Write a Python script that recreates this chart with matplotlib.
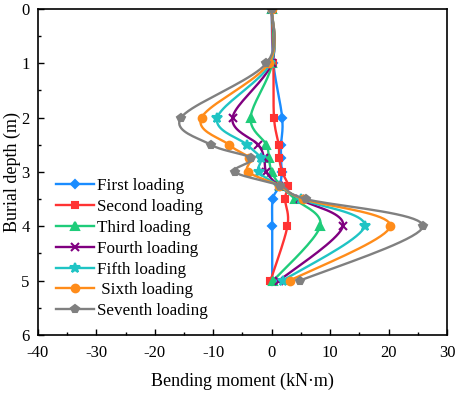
import numpy as np
import matplotlib.pyplot as plt

plt.rcParams['font.family'] = ['Liberation Serif', 'DejaVu Serif']
plt.rcParams['axes.unicode_minus'] = False

# depths of the measuring points (m)
depth = np.array([0, 1, 2, 2.5, 2.75, 3, 3.25, 3.5, 4, 5])

# bending moment (kN*m) for each loading stage
first = [0, 0.3, 1.8, 1.6, 1.6, 1.7, 1.4, 0.2, 0.1, 0.1]
second = [0, 0.3, 0.4, 1.2, 1.3, 1.8, 2.8, 2.3, 2.7, -0.2]
third = [0, 0.1, -3.6, -0.9, -0.5, 0.0, 1.5, 4.0, 8.3, 0.3]
fourth = [0, 0.0, -6.7, -2.3, -1.3, -0.9, 1.2, 4.8, 12.2, 1.3]
fifth = [0, -0.2, -9.3, -4.2, -1.9, -2.2, 1.2, 5.0, 15.9, 1.9]
sixth = [0, -0.5, -12.0, -7.3, -3.8, -4.0, 1.3, 5.4, 20.3, 3.1]
seventh = [0, -0.9, -15.5, -10.4, -3.5, -6.3, 1.4, 5.9, 25.9, 4.9]

labels = ['First loading', 'Second loading', 'Third loading', 'Fourth loading',
          'Fifth loading', ' Sixth loading', 'Seventh loading']
series = [first, second, third, fourth, fifth, sixth, seventh]
colors = ['#1a8cff', '#ff3333', '#1fcc7a', '#800080', '#1fc4c4', '#ff8c1a', '#808080']
markers = ['D', 's', '^', 'x', '*', 'o', 'p']
msizes = [4.5, 5, 5.5, 6, 7, 5.5, 6]


def smooth(x, y, n=20):
    # Catmull-Rom curve through the points, for a smoothed line like Origin's spline
    pts = np.column_stack([x, y])
    pts = np.vstack([pts[0], pts, pts[-1]])
    out = []
    t = np.linspace(0, 1, n, endpoint=False)[:, None]
    for i in range(1, len(pts) - 2):
        p0, p1, p2, p3 = pts[i - 1], pts[i], pts[i + 1], pts[i + 2]
        seg = 0.5 * ((2 * p1) + (-p0 + p2) * t + (2 * p0 - 5 * p1 + 4 * p2 - p3) * t ** 2
                     + (-p0 + 3 * p1 - 3 * p2 + p3) * t ** 3)
        out.append(seg)
    out.append(pts[-2][None, :])
    out = np.vstack(out)
    return out[:, 0], out[:, 1]


fig = plt.figure(figsize=(4.57, 3.93), dpi=100)
ax = fig.add_axes([0.083, 0.148, 0.895, 0.829])

for vals, lab, c, m, ms in zip(series, labels, colors, markers, msizes):
    sx, sy = smooth(np.array(vals, float), depth)
    ax.plot(sx, sy, '-', color=c, lw=1.7)
    ax.plot(vals, depth, m, color=c, ms=ms, mew=1.5)
    ax.plot([], [], '-', marker=m, color=c, lw=1.7, ms=ms, mew=1.5, label=lab)

ax.set_xlim(-40, 30)
ax.set_ylim(6, 0)
ax.set_xticks(np.arange(-40, 31, 10))
ax.set_xticks(np.arange(-35, 30, 10), minor=True)
ax.set_yticks(np.arange(0, 7, 1))
ax.set_yticks(np.arange(0.5, 6, 1), minor=True)
ax.tick_params(which='both', direction='in', labelsize=12, top=False, right=False)
ax.tick_params(which='major', length=4, width=1)
ax.tick_params(which='minor', length=2.5, width=1)
ax.tick_params(axis='x', pad=7)
ax.tick_params(axis='y', pad=6)
for s in ax.spines.values():
    s.set_linewidth(1.2)

ax.set_xlabel('Bending moment (kN\u00b7m)', fontsize=13, labelpad=9)
ax.set_ylabel('Burial depth (m)', fontsize=13, labelpad=0.5)

ax.legend(loc='upper left', bbox_to_anchor=(0.045, 0.48), frameon=False, fontsize=12.3,
          handlelength=2.2, handletextpad=0.2, labelspacing=0.28,
          borderpad=0, borderaxespad=0)

fig.savefig('out.png', dpi=100)
